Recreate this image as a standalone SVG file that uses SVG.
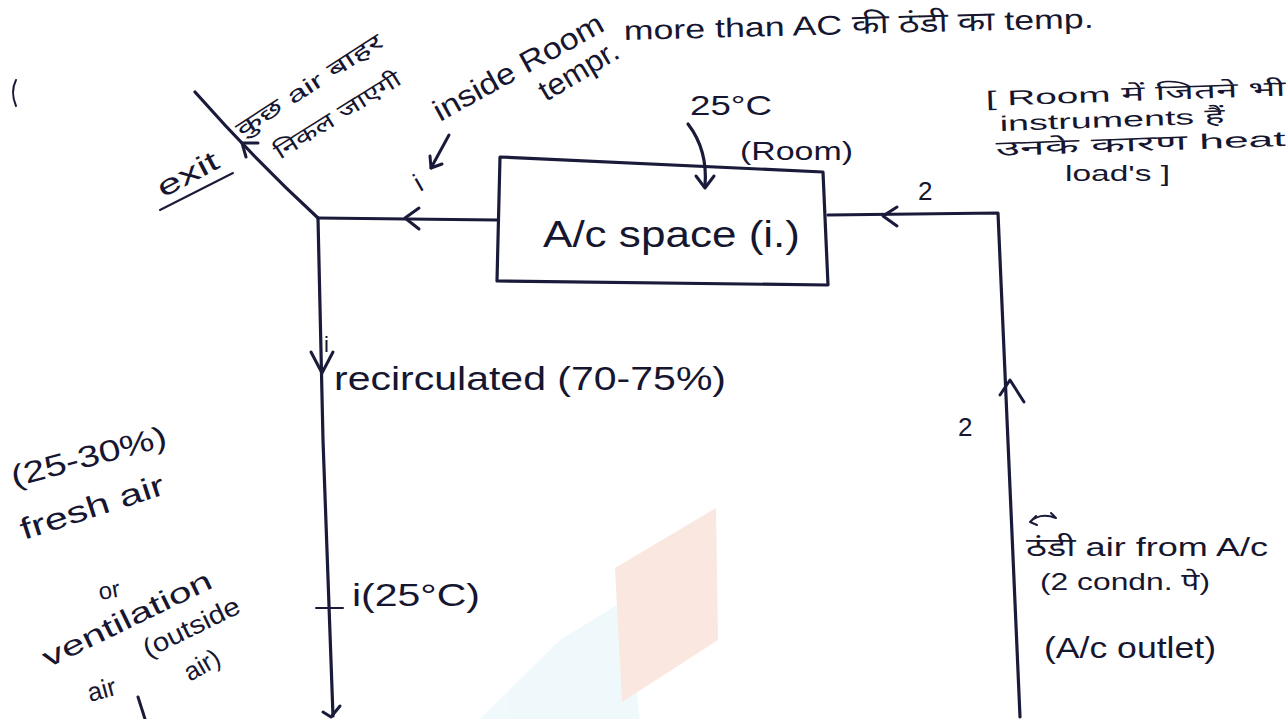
<svg xmlns="http://www.w3.org/2000/svg" width="1286" height="719" viewBox="0 0 1286 719">
<style>
.t{font-family:"Liberation Sans","Noto Sans","Noto Sans Devanagari","DejaVu Sans",sans-serif;fill:#161630;}
.ln{fill:none;stroke:#1a1a3a;stroke-width:3.2;stroke-linecap:round;stroke-linejoin:round;}
.hd{fill:none;stroke:#1a1a3a;stroke-width:3;stroke-linecap:round;stroke-linejoin:round;}
.th{fill:none;stroke:#1a1a3a;stroke-width:2;stroke-linecap:round;}
</style>
<rect width="1286" height="719" fill="#ffffff"/>
<g id="watermark" opacity="0.55">
<polygon points="480,719 560,640 625,600 640,719" fill="#e3f5fb"/>
<polygon points="615,568 716,508 718,640 622,702" fill="#f6d5c6"/>
</g>
<g id="connectors">
<path class="ln" d="M318,218 L497,220"/>
<path class="hd" d="M419,208 L405,218 L419,229"/>
<path class="ln" d="M318,218 Q255,160 195,92"/>
<path class="hd" d="M258,143 L242,143 L246,157"/>
<path class="ln" d="M318,218 L323,440 L333,716"/>
<path class="hd" d="M311,352 L322,373 L333,352"/>
<path class="th" d="M316,608 L343,608"/>
<path class="hd" d="M323,712 L331,717 L340,706"/>
<path class="ln" d="M828,215 L998,213 L1020,717"/>
<path class="hd" d="M897,207 L883,216 L897,226"/>
<path class="hd" d="M1000,395 L1010,380 L1024,402"/>
<path class="ln" d="M688,124 Q708,150 705,186"/>
<path class="hd" d="M696,176 L705,188 L714,176"/>
<path class="hd" d="M449,135 L431,168"/>
<path class="hd" d="M430,156 L431,168 L442,164"/>
<path class="hd" d="M138,697 L145,719"/>
<path class="th" d="M16,80 Q10,92 16,106"/>
<path class="th" d="M1030,522 Q1040,512 1056,518 M1030,522 L1036,516 M1030,522 L1037,525 M1056,518 L1051,513"/>
</g>
<g id="node-ac-space">
<polygon class="ln" points="500,157 823,172 828,285 497,281"/>
<text class="t" x="543" y="247" font-size="36" textLength="257" lengthAdjust="spacingAndGlyphs">A/c space (i.)</text>
</g>
<g id="labels">
<text class="t" x="690" y="115" font-size="28" textLength="82" lengthAdjust="spacingAndGlyphs">25°C</text>
<text class="t" x="740" y="160" font-size="26" textLength="113" lengthAdjust="spacingAndGlyphs">(Room)</text>
<text class="t" font-size="30" transform="translate(440,122) rotate(-29)" textLength="190" lengthAdjust="spacingAndGlyphs">inside Room</text>
<text class="t" font-size="30" transform="translate(546,102) rotate(-31)" textLength="88" lengthAdjust="spacingAndGlyphs">tempr.</text>
<text class="t" font-size="27" transform="translate(624,40) rotate(-1.5)" textLength="470" lengthAdjust="spacingAndGlyphs">more than AC की ठंडी का temp.</text>
<text class="t" font-size="22" transform="translate(242,138) rotate(-33)" textLength="170" lengthAdjust="spacingAndGlyphs">कुछ air बाहर</text>
<text class="t" font-size="22" transform="translate(280,160) rotate(-32)" textLength="145" lengthAdjust="spacingAndGlyphs">निकल जाएगी</text>
<text class="t" font-size="28" transform="translate(163,198) rotate(-28)" textLength="66" lengthAdjust="spacingAndGlyphs">exit</text>
<path class="th" d="M160,210 L233,173" stroke-width="3"/>
<text class="t" font-size="26" transform="translate(420,192) rotate(-30)">i</text>
<text class="t" x="918" y="200" font-size="26">2</text>
<text class="t" font-size="21" transform="translate(986,106) rotate(-2)" textLength="300" lengthAdjust="spacingAndGlyphs">[ Room में जितने भी</text>
<text class="t" font-size="21" transform="translate(1000,131) rotate(-2)" textLength="225" lengthAdjust="spacingAndGlyphs">instruments हैं</text>
<text class="t" font-size="21" transform="translate(996,156) rotate(-2)" textLength="290" lengthAdjust="spacingAndGlyphs">उनके कारण heat</text>
<text class="t" font-size="22" x="1065" y="181" textLength="105" lengthAdjust="spacingAndGlyphs">load's ]</text>
<text class="t" x="324" y="352" font-size="22">i</text>
<text class="t" x="334" y="390" font-size="34" textLength="392" lengthAdjust="spacingAndGlyphs">recirculated (70-75%)</text>
<text class="t" x="958" y="436" font-size="26">2</text>
<text class="t" font-size="30" transform="translate(14,487) rotate(-15)" textLength="160" lengthAdjust="spacingAndGlyphs">(25-30%)</text>
<text class="t" font-size="30" transform="translate(24,540) rotate(-18)" textLength="150" lengthAdjust="spacingAndGlyphs">fresh air</text>
<text class="t" font-size="24" transform="translate(100,600) rotate(-10)">or</text>
<text class="t" font-size="28" transform="translate(48,668) rotate(-26)" textLength="185" lengthAdjust="spacingAndGlyphs">ventilation</text>
<text class="t" font-size="26" transform="translate(148,658) rotate(-26)" textLength="105" lengthAdjust="spacingAndGlyphs">(outside</text>
<text class="t" font-size="26" transform="translate(90,702) rotate(-15)">air</text>
<text class="t" font-size="26" transform="translate(190,682) rotate(-30)">air)</text>
<text class="t" x="352" y="606" font-size="32" textLength="128" lengthAdjust="spacingAndGlyphs">i(25°C)</text>
<text class="t" x="1026" y="556" font-size="26" textLength="242" lengthAdjust="spacingAndGlyphs">ठंडी air from A/c</text>
<text class="t" x="1040" y="590" font-size="24" textLength="170" lengthAdjust="spacingAndGlyphs">(2 condn. पे)</text>
<text class="t" x="1044" y="658" font-size="30" textLength="172" lengthAdjust="spacingAndGlyphs">(A/c outlet)</text>
</g>
</svg>
